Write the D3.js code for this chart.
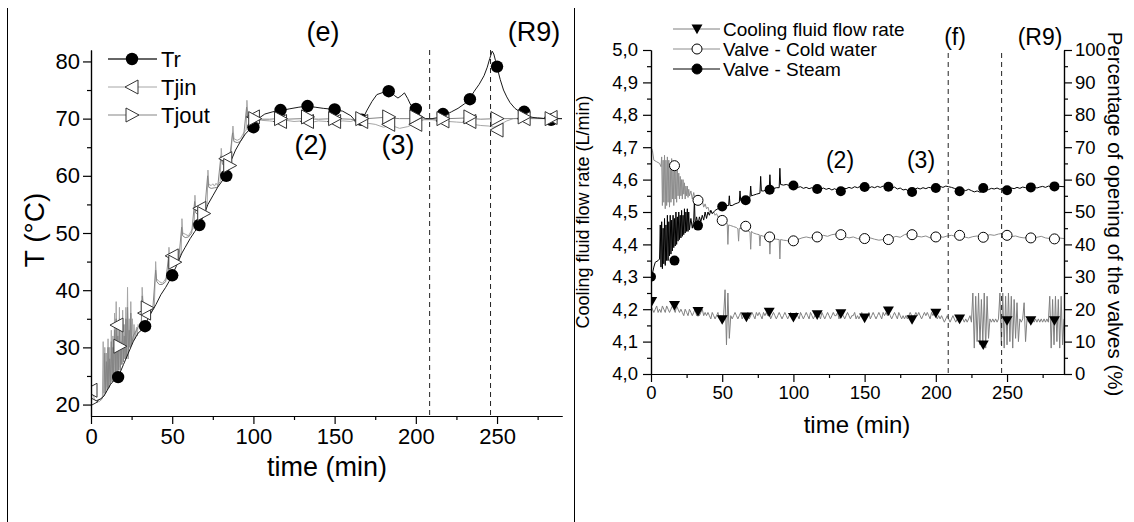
<!DOCTYPE html>
<html>
<head>
<meta charset="utf-8">
<script src="https://cdn.jsdelivr.net/npm/d3@7"></script>
<style>
  body { margin: 0; background: #fff; }
  svg { display: block; }
  text { font-family: "Liberation Sans", Arial, sans-serif; fill: #000; }
</style>
</head>
<body>
<script>

// ---------- data : left panel (e) temperatures ----------
// reactor temperature, [time (min), T (°C)]
var trLine = [[0,20.2],[3,20.5],[6,21],[8,21.5],[10,22.5],[12,23.5],[14,24.2],[17,25],[20,27],[23,29],[26,31],[29,32.5],[31,33],[33,33.8],[36,35.5],[38,36.5],[40,37.5],[43,39.2],[46,40.5],[48,41.5],[50,42.6],[53,44.5],[56,46.5],[58,47.5],[61,49],[64,50.3],[67,51.5],[70,53.5],[72,55],[75,56.5],[78,58],[81,59.2],[83,60],[86,62.5],[89,64.5],[92,66],[95,67.3],[98,68.2],[100,68.8],[103,70],[107,70.8],[112,71.2],[117,71.4],[122,71.7],[128,72],[133,72.2],[138,72],[143,71.8],[150,71.6],[155,71.3],[160,70.5],[163,69.5],[165,69],[167,69.8],[170,71.5],[173,73],[176,74.2],[180,74.6],[184,74.8],[187,74],[189,73.6],[191,74],[193,74.5],[195,73.5],[197,72.3],[200,71.5],[203,70.5],[206,70],[210,70],[214,70.2],[218,70.6],[222,71.2],[226,71.8],[230,72.6],[233,73.4],[236,74.8],[239,76],[242,77.5],[244,79],[245.5,80.5],[247,81.8],[248,81.3],[249,80.2],[250,79],[252,76.8],[254,75],[256,73.8],[258,72.8],[261,71.8],[264,71.2],[267,70.8],[270,70.3],[275,70.1],[280,70],[285,70],[290,70]];

// jacket inlet temperature
var tjinLine = [[0,23],[1,22.5],[2,21],[3,20.5],[5,20.5],[7,21],[7.5,31],[8,22],[8.5,30],[9,22.5],[9.5,29],[10,23],[10.5,31.5],[11,23],[11.5,30],[12,23.5],[12.5,33],[13,24],[13.5,32],[14,24],[14.5,36],[15,25],[15.5,38],[16,25.5],[16.5,34],[17,26],[17.5,37],[18,26.5],[18.5,33],[19,27],[19.5,36.5],[20,27.5],[20.5,34],[21,28],[21.5,37],[22,28.5],[22.5,40.5],[23,28],[23.5,35],[24,30],[24.5,38],[25,30.5],[25.5,35],[26,31],[26.5,34],[27,31.5],[28,33.5],[28.5,32],[29,34],[30,33.5],[31,34.5],[31.5,40.5],[32,38],[33,37],[35,36.3],[37,36.2],[39,37],[39.8,45],[40.3,42],[42,41.5],[44,41.2],[46,42],[47.5,42.5],[48,47.5],[48.5,45],[50,44.8],[52,45.2],[54,45.5],[55.5,46.5],[56,52.5],[56.5,50],[58,49.8],[60,49.5],[62,50.5],[63.5,51],[64,56.6],[64.5,54],[66,53.8],[68,54.2],[70,54.5],[71.5,55],[72,61],[72.5,58.5],[74,58.3],[75,58.6],[76,58.2],[77,58.7],[78,58.3],[79.5,59],[80.2,64.8],[80.8,62.5],[82,62.2],[84,62.5],[86,63],[87.4,68.7],[88,66.5],[90,66.2],[92,66.5],[94,67.5],[95.5,68],[96,73.2],[96.6,70.5],[98,70],[100,69.8],[105,69.7],[110,69.6],[115,69.4],[120,69.7],[125,69.5],[130,69.6],[135,69.3],[140,69.6],[145,69.5],[150,69.4],[155,69.6],[160,69.5],[163,69.8],[165,68.8],[167,69.5],[170,69.2],[175,69],[180,68.5],[185,68.8],[190,68.3],[195,68.6],[200,69.2],[205,69.8],[210,69.8],[215,69.6],[220,69.5],[225,69.4],[230,69.3],[235,69],[240,68.8],[245,68.7],[248,68.5],[252,69],[256,69.6],[260,70],[265,70.1],[270,70],[275,70.2],[280,70],[285,70.1],[290,70]];

// jacket outlet temperature
var tjoutLine = [[0,20.5],[2,20.5],[4,20.8],[6,21],[8,21.5],[8.5,29],[9,22],[9.5,27.5],[10,22.5],[10.5,30],[11,23],[11.5,28],[12,23.5],[12.5,31],[13,24],[13.5,30],[14,24.5],[14.5,33],[15,25],[15.5,35],[16,25],[16.5,32],[17,26],[17.5,35],[18,26],[18.5,31],[19,27],[19.5,34],[20,27.5],[20.5,32],[21,28],[21.5,35],[22,28],[22.5,37],[23,29],[23.5,33],[24,30],[24.5,36],[25,30.5],[26,32],[27,32.5],[28,33],[29,33.5],[30,33.8],[31,34.3],[31.6,39],[32,37.5],[34,36.5],[36,36],[38,36.5],[39.8,43.5],[40.5,41.5],[42,41],[44,41],[46,41.5],[47.8,46],[48.5,44.5],[50,44.5],[52,44.8],[54,45.2],[55.8,51],[56.5,49.5],[58,49.2],[60,49.3],[62,50],[63.8,55.5],[64.5,53.5],[66,53.2],[68,53.6],[70,54],[71.8,60],[72.5,58],[74,57.8],[76,57.9],[78,58],[80,63.5],[81,62],[83,61.8],[85,62.3],[87.2,67.5],[88,66],[90,65.8],[92,66],[94,67],[95.8,72],[96.6,70.2],[98,70],[100,70],[105,69.9],[110,69.9],[115,70],[120,69.9],[130,70],[140,69.9],[150,70],[160,69.9],[165,69.5],[170,70],[180,70.2],[190,70],[200,70],[210,69.9],[220,70],[230,70.1],[240,69.9],[250,70],[260,70],[270,70],[280,70],[290,70]];

// symbols
var trMarkT   = [16.7,33.3,50,66.7,83.3,100,116.7,133.3,150,166.7,183.3,200,216.7,233.3,250,266.7,283.3];
var trMarkV   = [24.8,33.7,42.6,51.4,60,68.5,71.5,72.2,71.6,69.8,74.8,71.7,70.8,73.4,79.1,71.2,69.8];
var tjinMarkT = [0,16,33,50,67,83,100,116.7,133.3,150,166.7,183.3,200,216.7,233.3,250,266.7,283.3];
var tjinMarkV = [22.5,33.9,36,46,54.3,63,70.3,69.5,69.5,69.5,69.5,69,69,69.6,69.5,68,70,70.2];
var tjoutMarkT = [0,17.8,34.6,51.6,69.4,85.4,100.8,116.7,133.3,150,166.7,183.3,200,216.7,233.3,250,266.7,283.3];
var tjoutMarkV = [20.5,30.2,36.9,44.9,53.4,61.8,70,70,70.3,70,70,70.3,70.3,70,70.3,70,70.3,70];

var leftDash = [208.5, 246];

// ---------- data : right panel (f) flow rate and valves ----------
// cooling fluid flow rate (L/min), one reading per minute from t = 0
var flowStep = 1;
var flowRate = [
  4.21,4.20,4.19,4.20,4.21,4.19,4.20,4.19,4.21,4.20,
  4.19,4.21,4.20,4.19,4.20,4.21,4.20,4.19,4.21,4.20,
  4.19,4.20,4.19,4.18,4.20,4.19,4.18,4.20,4.19,4.18,
  4.19,4.20,4.18,4.19,4.18,4.19,4.20,4.18,4.19,4.18,
  4.19,4.18,4.17,4.19,4.18,4.17,4.18,4.19,4.17,4.18,
  4.17,4.18,4.26,4.09,4.25,4.11,4.18,4.17,4.18,4.19,
  4.18,4.17,4.18,4.19,4.17,4.18,4.17,4.18,4.19,4.17,
  4.18,4.19,4.18,4.17,4.19,4.18,4.19,4.18,4.17,4.19,
  4.18,4.19,4.18,4.19,4.17,4.18,4.19,4.18,4.17,4.18,
  4.19,4.18,4.17,4.18,4.19,4.18,4.17,4.18,4.19,4.18,
  4.17,4.18,4.19,4.18,4.17,4.19,4.18,4.17,4.18,4.19,
  4.18,4.17,4.19,4.18,4.17,4.18,4.19,4.18,4.18,4.17,
  4.19,4.18,4.17,4.18,4.19,4.18,4.17,4.18,4.19,4.18,
  4.18,4.19,4.17,4.18,4.19,4.18,4.17,4.18,4.19,4.18,
  4.17,4.18,4.18,4.19,4.17,4.18,4.17,4.18,4.19,4.17,
  4.18,4.17,4.18,4.19,4.17,4.18,4.19,4.18,4.17,4.18,
  4.19,4.18,4.17,4.19,4.18,4.19,4.18,4.19,4.18,4.17,
  4.18,4.19,4.18,4.17,4.19,4.18,4.17,4.18,4.17,4.18,
  4.17,4.18,4.19,4.18,4.17,4.18,4.19,4.18,4.19,4.18,
  4.17,4.18,4.19,4.18,4.19,4.18,4.17,4.19,4.18,4.19,
  4.18,4.17,4.18,4.17,4.18,4.17,4.16,4.17,4.18,4.17,
  4.16,4.17,4.18,4.17,4.16,4.17,4.16,4.17,4.18,4.17,
  4.16,4.17,4.16,4.17,4.18,4.16,4.25,4.08,4.24,4.10,
  4.25,4.09,4.23,4.10,4.25,4.08,4.24,4.11,4.17,4.16,
  4.17,4.16,4.17,4.16,4.17,4.25,4.09,4.25,4.08,4.24,
  4.09,4.25,4.10,4.24,4.08,4.23,4.11,4.22,4.10,4.17,
  4.16,4.17,4.22,4.10,4.17,4.16,4.17,4.16,4.17,4.16,
  4.17,4.16,4.17,4.16,4.17,4.16,4.17,4.16,4.17,4.16,
  4.24,4.08,4.23,4.09,4.24,4.10,4.23,4.08,4.24,4.09,
  4.17];

// cold water valve opening (%), [time, %]
var coldLine = [[0,70],[1,69],[2,66],[4,65.5],[6,65],[7,64],[7.5,67],[8,52],[8.5,66],[9,53],[9.5,67.5],[10,51],[10.5,66],[11,52],[11.5,67],[12,53],[12.5,66],[13,51.5],[13.5,65],[14,53],[14.5,66.5],[15,54],[15.5,64],[16,52],[16.5,65],[17,54],[17.5,63],[18,53],[18.5,64],[19,55],[19.5,62],[20,54],[20.5,61],[21,55],[21.5,60],[22,54],[22.5,60],[23,55.5],[23.5,59],[24,54],[24.5,58],[25,55],[25.5,58],[26,54.5],[26.5,57],[27,55],[28,56.5],[29,54],[30,56],[31,53.5],[32,55],[33,53.5],[34,54.5],[35,52.5],[36,53.5],[37,51.5],[38,52.5],[39,51],[40,51.5],[41,50],[42,50.5],[43,49.5],[44,50],[45,49],[46,49.5],[47,48.5],[48,48.8],[49,48],[50,47.5],[52,47],[53.5,46.5],[54,40],[54.5,46],[56,45.8],[58,45.5],[60,45.2],[61,44.8],[61.5,41],[62,45],[64,44.8],[66,44.5],[68,44.2],[69.5,43.8],[70,38.5],[70.5,44],[72,43.5],[74,43.2],[76,43],[76.5,39.5],[77,42.8],[79,42.5],[81,42.3],[83,42],[83.5,37],[84,42],[86,41.8],[88,41.6],[90,41.5],[90.5,35.5],[91,41.5],[93,41.3],[95,41.2],[97,41],[100,41],[103,41.5],[106,42],[109,42.3],[112,42],[115,42.5],[118,42.3],[121,42.8],[124,42.5],[127,43],[130,43.2],[133,43],[136,42.4],[139,42],[142,42.3],[145,41.8],[148,41.6],[151,41.8],[154,42],[157,41.6],[160,41.3],[163,41.5],[166,41.4],[169,42],[172,42.5],[175,42.2],[178,43],[181,43.4],[184,43],[187,42.5],[190,42.3],[193,42.6],[196,42],[199,42.2],[202,42.5],[205,42.2],[208,42.6],[211,42.8],[214,42.5],[217,42.8],[220,42.3],[223,42],[226,42.4],[229,42.6],[232,42.3],[235,42.6],[238,43],[241,42.8],[244,43.2],[247,43.4],[250,42.8],[253,42.4],[256,42.6],[259,42.2],[262,42],[265,42.3],[268,41.8],[271,42.2],[274,42.5],[277,42],[280,41.8],[283,41.7],[286,42],[290,41.8]];

// steam valve opening (%), [time, %]
var steamLine = [[0,30],[1,31],[2,33],[3,34.5],[5,35],[6,35.5],[6.5,46],[7,33],[7.5,47],[8,32.5],[8.5,45],[9,34],[9.5,48],[10,33.5],[10.5,46],[11,35],[11.5,49],[12,35],[12.5,47],[13,36.5],[13.5,49],[14,37],[14.5,47.5],[15,38],[15.5,49],[16,39],[16.5,48],[17,39.5],[17.5,50],[18,40],[18.5,48.5],[19,41],[19.5,50],[20,41.5],[20.5,49],[21,42],[21.5,50.5],[22,42.5],[22.5,49],[23,43],[23.5,51],[24,43.5],[24.5,50],[25,44],[25.5,51],[26,44],[26.5,50],[27,44.5],[28,48],[29,45],[30,47.5],[30.5,54],[31,46],[32,48.5],[33,46],[34,48.5],[35,47],[36,49],[37,47.5],[38,50],[39,48],[40,50],[41,49],[42,50.5],[43,49.5],[45,50.5],[47,51],[49,51.5],[51,51.5],[53,52],[54.5,52],[55,55],[55.5,52],[57,52],[59,52.5],[61,52.8],[62,53],[62.5,56.5],[63,53.5],[65,53.8],[67,54],[69.5,54.5],[70,58],[70.5,55],[72,55.2],[74,55.5],[76.5,55.8],[77,61],[77.5,56.5],[79,56.5],[81,56.8],[83,57],[83.5,61.5],[84,57.2],[86,57.2],[88,57.5],[90,57.5],[90.5,63.5],[91,58.5],[93,58.3],[95,58.5],[97,58.2],[99,58.4],[101,58],[103,57.6],[105,57.8],[107,57.3],[109,57.6],[111,57.2],[113,57.5],[115,57.1],[117,57.3],[119,57],[121,57.4],[123,57],[125,57.3],[127,56.8],[129,57.2],[131,56.6],[133,56.9],[135,57.4],[137,57.2],[139,57.6],[141,57.3],[143,57.8],[145,57.5],[147,57.9],[149,57.6],[151,57.8],[153,57.4],[155,57.8],[157,57.5],[159,57.9],[161,57.6],[163,58],[165,57.8],[167,57.9],[169,57.4],[171,57.7],[173,57.1],[175,57.4],[177,56.8],[179,57],[181,56.4],[183,56.3],[185,56.9],[187,57.4],[189,57.1],[191,57.5],[193,57.2],[195,57.6],[197,57.4],[199,57.8],[201,57.5],[203,57.9],[205,57.6],[207,58],[209,57.8],[211,57.6],[213,57.3],[215,57],[217,56.6],[219,56.9],[221,56.6],[223,57],[225,56.6],[227,56.2],[229,56.5],[231,56.1],[233,56.3],[235,56.8],[237,56.9],[239,57.3],[241,57.1],[243,57.4],[245,57],[247,57.3],[249,56.9],[251,57.2],[253,57.4],[255,57.2],[257,57.6],[259,57.3],[261,57.7],[263,57.5],[265,57.8],[267,57.6],[269,57.8],[271,57.4],[273,57.7],[275,57.9],[277,57.6],[279,58],[281,57.8],[283,58],[285,57.7],[287,57.9],[290,57.8]];

var flowMarkT  = [0.5,16.5,33,50,67,83,100,116.7,133.3,150,166.7,183.3,200,216.7,233.3,250,266.7,283.3];
var flowMarkV  = [4.224,4.212,4.193,4.168,4.176,4.191,4.175,4.183,4.186,4.173,4.195,4.168,4.188,4.17,4.09,4.165,4.165,4.165];
var coldMarkT  = [16.5,33,50,66.5,83.3,100,116.7,133.3,150,166.7,183.3,200,216.7,233.3,250,266.7,283.3];
var coldMarkV  = [64.3,53.6,47.4,45.6,42.3,41.1,42.3,43,41.8,41.5,43,42.3,42.8,42.2,42.8,42,41.7];
var steamMarkT = [0,16.5,33,50,66.5,83.3,100,116.7,133.3,150,166.7,183.3,200,216.7,233.3,250,266.7,283.3];
var steamMarkV = [30,35,45.8,51.7,53.6,56.9,58.2,57.1,56.4,57.7,57.8,56.2,57.4,56.4,57.4,56.7,57.6,57.9];

var rightDash = [208.7, 246.2];

var timeTicks = [0, 50, 100, 150, 200, 250];
var timeMinor = [25, 75, 125, 175, 225, 275];

// ---------- drawing ----------
var svg = d3.select("body").append("svg")
    .attr("width", 1134)
    .attr("height", 522);

// panel frame lines
svg.append("line").attr("x1", 7.5).attr("x2", 7.5).attr("y1", 8).attr("y2", 522).attr("stroke", "#000");
svg.append("line").attr("x1", 574.5).attr("x2", 574.5).attr("y1", 8).attr("y2", 522).attr("stroke", "#000");

function addAxis(scale, orient, translate, majors, minors, fmt, fontSize, pad) {
    var make = {left: d3.axisLeft, right: d3.axisRight, bottom: d3.axisBottom}[orient];
    svg.append("g")
        .attr("transform", translate)
        .call(make(scale).tickValues(minors).tickSize(4).tickSizeOuter(0).tickFormat(""))
        .selectAll("line, path").attr("stroke", "#000").attr("stroke-width", 1.2);
    var g = svg.append("g")
        .attr("transform", translate)
        .call(make(scale).tickValues(majors).tickSize(8).tickSizeOuter(0).tickPadding(pad).tickFormat(fmt));
    g.attr("font-family", null).attr("font-size", null);
    g.selectAll("text").style("font-size", fontSize + "px");
    g.selectAll("line, path").attr("stroke", "#000").attr("stroke-width", 1.2);
}

function triPath(kind, s) {
    // s = half size
    if (kind == "left")  return "M" + s + "," + (-s - 1) + "L" + s + "," + (s + 1) + "L" + (-s - 1) + ",0Z";
    if (kind == "right") return "M" + (-s) + "," + (-s - 1) + "L" + (-s) + "," + (s + 1) + "L" + (s + 1) + ",0Z";
    return "M" + (-s) + "," + (-s * 0.8) + "L" + s + "," + (-s * 0.8) + "L0," + (s * 0.95) + "Z";
}

// ======== left panel ========
var x1 = d3.scaleLinear().domain([0, 290]).range([91, 562]);
var y1 = d3.scaleLinear().domain([18, 82]).range([416, 50]);

svg.append("clipPath").attr("id", "clipL")
    .append("rect").attr("x", 91).attr("y", 40).attr("width", 471).attr("height", 376);

var plotL = svg.append("g").attr("clip-path", "url(#clipL)");

var lineL = d3.line()
    .x(function(d) { return x1(d[0]); })
    .y(function(d) { return y1(d[1]); });

plotL.append("path").datum(tjinLine).attr("d", lineL)
    .attr("fill", "none").attr("stroke", "#a6a6a6").attr("stroke-width", 1);
plotL.append("path").datum(tjoutLine).attr("d", lineL)
    .attr("fill", "none").attr("stroke", "#858585").attr("stroke-width", 1);
plotL.append("path").datum(trLine).attr("d", lineL)
    .attr("fill", "none").attr("stroke", "#1a1a1a").attr("stroke-width", 1);

plotL.selectAll("circle.tr")
    .data(trMarkT)
    .enter()
    .append("circle")
    .attr("class", "tr")
    .attr("cx", function(d) { return x1(d); })
    .attr("cy", function(d, i) { return y1(trMarkV[i]); })
    .attr("r", 6.2)
    .attr("fill", "#000");

plotL.selectAll("path.tjin")
    .data(tjinMarkT)
    .enter()
    .append("path")
    .attr("class", "tjin")
    .attr("d", triPath("left", 6))
    .attr("transform", function(d, i) { return "translate(" + x1(d) + "," + y1(tjinMarkV[i]) + ")"; })
    .attr("fill", "#fff").attr("stroke", "#333").attr("stroke-width", 1);

plotL.selectAll("path.tjout")
    .data(tjoutMarkT)
    .enter()
    .append("path")
    .attr("class", "tjout")
    .attr("d", triPath("right", 6))
    .attr("transform", function(d, i) { return "translate(" + x1(d) + "," + y1(tjoutMarkV[i]) + ")"; })
    .attr("fill", "#fff").attr("stroke", "#333").attr("stroke-width", 1);

svg.selectAll("line.dashL")
    .data(leftDash)
    .enter()
    .append("line")
    .attr("class", "dashL")
    .attr("x1", function(d) { return x1(d); })
    .attr("x2", function(d) { return x1(d); })
    .attr("y1", y1(82)).attr("y2", y1(18))
    .attr("stroke", "#222").attr("stroke-dasharray", "5,4");

addAxis(x1, "bottom", "translate(0,416)", timeTicks, timeMinor, d3.format("d"), 22, 4);
addAxis(y1, "left", "translate(91,0)", [20, 30, 40, 50, 60, 70, 80], [25, 35, 45, 55, 65, 75], d3.format("d"), 22, 3);

svg.append("text").attr("x", 327).attr("y", 476).attr("text-anchor", "middle")
    .style("font-size", "27px").text("time (min)");
svg.append("text").attr("transform", "translate(44,230) rotate(-90)").attr("text-anchor", "middle")
    .style("font-size", "28px").text("T (°C)");

// left legend
var legL = [
    {name: "Tr", stroke: "#333", kind: "circle"},
    {name: "Tjin", stroke: "#a6a6a6", kind: "left"},
    {name: "Tjout", stroke: "#858585", kind: "right"}
];
legL.forEach(function(d, i) {
    var yy = 59 + i * 28;
    svg.append("line").attr("x1", 108).attr("x2", 157).attr("y1", yy).attr("y2", yy)
        .attr("stroke", d.stroke).attr("stroke-width", i == 0 ? 1.5 : 1);
    if (d.kind == "circle") {
        svg.append("circle").attr("cx", 132).attr("cy", yy).attr("r", 6.2).attr("fill", "#000");
    } else {
        svg.append("path").attr("d", triPath(d.kind, 6)).attr("transform", "translate(132," + yy + ")")
            .attr("fill", "#fff").attr("stroke", "#333");
    }
    svg.append("text").attr("x", 161).attr("y", yy).attr("dy", "0.36em")
        .style("font-size", "22px").text(d.name);
});

var notesL = [["(e)", 323, 41], ["(R9)", 534, 41], ["(2)", 311, 154], ["(3)", 398, 154]];
svg.selectAll("text.noteL")
    .data(notesL)
    .enter()
    .append("text")
    .attr("class", "noteL")
    .attr("x", function(d) { return d[1]; })
    .attr("y", function(d) { return d[2]; })
    .attr("text-anchor", "middle")
    .style("font-size", "27px")
    .text(function(d) { return d[0]; });

// ======== right panel ========
var x2 = d3.scaleLinear().domain([0, 290]).range([651, 1064]);
var y2 = d3.scaleLinear().domain([4.0, 5.0]).range([374, 50]);
var y2r = d3.scaleLinear().domain([0, 100]).range([374, 50]);

svg.append("clipPath").attr("id", "clipR")
    .append("rect").attr("x", 651).attr("y", 50).attr("width", 413).attr("height", 324);

var plotR = svg.append("g").attr("clip-path", "url(#clipR)");

var flowLine = d3.line()
    .x(function(d, i) { return x2(i * flowStep); })
    .y(function(d) { return y2(d); });
var valveLine = d3.line()
    .x(function(d) { return x2(d[0]); })
    .y(function(d) { return y2r(d[1]); });

plotR.append("path").datum(flowRate).attr("d", flowLine)
    .attr("fill", "none").attr("stroke", "#7f7f7f").attr("stroke-width", 1);
plotR.append("path").datum(coldLine).attr("d", valveLine)
    .attr("fill", "none").attr("stroke", "#8c8c8c").attr("stroke-width", 1);
plotR.append("path").datum(steamLine).attr("d", valveLine)
    .attr("fill", "none").attr("stroke", "#000").attr("stroke-width", 1);

plotR.selectAll("path.flow")
    .data(flowMarkT)
    .enter()
    .append("path")
    .attr("class", "flow")
    .attr("d", triPath("down", 5.5))
    .attr("transform", function(d, i) { return "translate(" + x2(d) + "," + y2(flowMarkV[i]) + ")"; })
    .attr("fill", "#000");

plotR.selectAll("circle.cold")
    .data(coldMarkT)
    .enter()
    .append("circle")
    .attr("class", "cold")
    .attr("cx", function(d) { return x2(d); })
    .attr("cy", function(d, i) { return y2r(coldMarkV[i]); })
    .attr("r", 5)
    .attr("fill", "#fff").attr("stroke", "#000").attr("stroke-width", 1);

plotR.selectAll("circle.steam")
    .data(steamMarkT)
    .enter()
    .append("circle")
    .attr("class", "steam")
    .attr("cx", function(d) { return x2(d); })
    .attr("cy", function(d, i) { return y2r(steamMarkV[i]); })
    .attr("r", 5)
    .attr("fill", "#000");

svg.selectAll("line.dashR")
    .data(rightDash)
    .enter()
    .append("line")
    .attr("class", "dashR")
    .attr("x1", function(d) { return x2(d); })
    .attr("x2", function(d) { return x2(d); })
    .attr("y1", 53).attr("y2", 374)
    .attr("stroke", "#222").attr("stroke-dasharray", "5,4");

var commaFmt = function(d) { return d.toFixed(1).replace(".", ","); };
addAxis(x2, "bottom", "translate(0,374)", timeTicks, timeMinor, d3.format("d"), 18.5, 4);
addAxis(y2, "left", "translate(651,0)", d3.range(40, 51).map(function(v) { return v / 10; }),
        d3.range(40, 50).map(function(v) { return v / 10 + 0.05; }), commaFmt, 18.5, 5);
addAxis(y2r, "right", "translate(1064,0)", d3.range(0, 101, 10), d3.range(5, 100, 10), d3.format("d"), 18.5, 3);

svg.append("text").attr("x", 857).attr("y", 433).attr("text-anchor", "middle")
    .style("font-size", "24px").text("time (min)");
svg.append("text").attr("transform", "translate(589,212) rotate(-90)").attr("text-anchor", "middle")
    .style("font-size", "18px").text("Cooling fluid flow rate (L/min)");
svg.append("text").attr("transform", "translate(1108,214) rotate(90)").attr("text-anchor", "middle")
    .style("font-size", "20.5px").text("Percentage of opening of the valves (%)");

// right legend
var legR = [
    {name: "Cooling fluid flow rate", stroke: "#7f7f7f", kind: "down"},
    {name: "Valve - Cold water", stroke: "#8c8c8c", kind: "open"},
    {name: "Valve - Steam", stroke: "#000", kind: "filled"}
];
legR.forEach(function(d, i) {
    var yy = 29 + i * 20;
    svg.append("line").attr("x1", 673).attr("x2", 720).attr("y1", yy).attr("y2", yy)
        .attr("stroke", d.stroke);
    if (d.kind == "down") {
        svg.append("path").attr("d", triPath("down", 5.5)).attr("transform", "translate(697," + yy + ")")
            .attr("fill", "#000");
    } else {
        svg.append("circle").attr("cx", 697).attr("cy", yy).attr("r", 5)
            .attr("fill", d.kind == "open" ? "#fff" : "#000").attr("stroke", "#000");
    }
    svg.append("text").attr("x", 723).attr("y", yy).attr("dy", "0.36em")
        .style("font-size", "19px").text(d.name);
});

var notesR = [["(f)", 955, 45], ["(R9)", 1040, 45], ["(2)", 840, 168], ["(3)", 921, 168]];
svg.selectAll("text.noteR")
    .data(notesR)
    .enter()
    .append("text")
    .attr("class", "noteR")
    .attr("x", function(d) { return d[1]; })
    .attr("y", function(d) { return d[2]; })
    .attr("text-anchor", "middle")
    .style("font-size", "23px")
    .text(function(d) { return d[0]; });

</script>
</body>
</html>
